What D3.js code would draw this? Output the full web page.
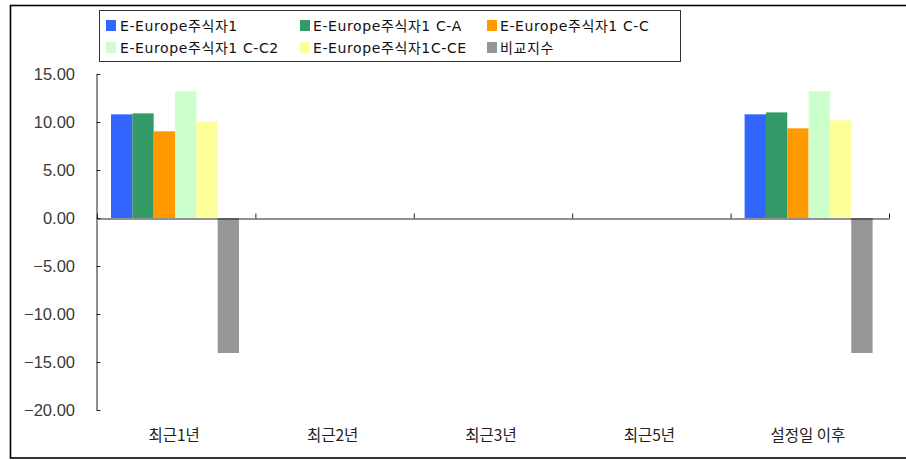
<!DOCTYPE html>
<html>
<head>
<meta charset="utf-8">
<script src="https://cdn.jsdelivr.net/npm/d3@7/dist/d3.min.js"></script>
<style>
body { margin: 0; background: #fff; }
.tick-label { font-family: "Liberation Sans", Arial, sans-serif; font-size: 16.5px; fill: #3a3a3a; }
.category { font-family: "Noto Sans CJK KR", sans-serif; font-size: 15.5px; fill: #222; }
.legend-text { font-family: "DejaVu Sans", "Noto Sans CJK KR", sans-serif; font-size: 14px; letter-spacing: 0.6px; fill: #111; }
</style>
</head>
<body>
<svg id="chart" width="906" height="460"></svg>
<script>
var WIDTH = 906;
var HEIGHT = 460;

var categories = ["최근1년", "최근2년", "최근3년", "최근5년", "설정일 이후"];
var seriesNames = ["E-Europe주식자1", "E-Europe주식자1 C-A", "E-Europe주식자1 C-C",
                   "E-Europe주식자1 C-C2", "E-Europe주식자1C-CE", "비교지수"];
var seriesColors = ["#3366ff", "#339966", "#ff9900", "#ccffcc", "#ffff99", "#969696"];

// one array per series, null = no value for that period
var fund1   = [10.80, null, null, null, 10.80];
var fundCA  = [10.90, null, null, null, 11.00];
var fundCC  = [9.03,  null, null, null, 9.34];
var fundCC2 = [13.20, null, null, null, 13.20];
var fundCCE = [10.07, null, null, null, 10.17];
var bench   = [-14.06, null, null, null, -14.06];
var seriesValues = [fund1, fundCA, fundCC, fundCC2, fundCCE, bench];

var yTicks = [15, 10, 5, 0, -5, -10, -15, -20];

var svg = d3.select("#chart");

var x0 = d3.scaleBand()
           .domain(categories)
           .range([97, 889])
           .padding(0);

var x1 = d3.scaleBand()
           .domain(d3.range(seriesNames.length))
           .range([14, x0.bandwidth() - 16.4]);

var y = d3.scaleLinear()
          .domain([-20, 15])
          .range([410, 74]);

// outer frame
svg.append("rect")
   .attr("x", 10.5)
   .attr("y", 5.5)
   .attr("width", 905)
   .attr("height", 452.5)
   .attr("fill", "none")
   .attr("stroke", "#000")
   .attr("stroke-width", 1.6);

/**
 * bars, one group per category
 */
var groups = svg.append("g")
    .selectAll("g")
    .data(categories)
    .enter().append("g")
      .attr("transform", function(d){return "translate(" + x0(d) + ",0)";});

groups.selectAll("rect")
    .data(function(d, ci){
        return seriesValues.map(function(s, si){return {s: si, v: s[ci]};})
                           .filter(function(e){return e.v !== null;});
    })
    .enter().append("rect")
      .attr("x", function(d){return x1(d.s);})
      .attr("width", x1.bandwidth())
      .attr("y", function(d){return y(Math.max(0, d.v));})
      .attr("height", function(d){return Math.abs(y(d.v) - y(0));})
      .attr("fill", function(d){return seriesColors[d.s];});

// y axis, ticks pointing inwards
var yAxis = svg.append("g")
    .attr("transform", "translate(96.5,0)")
    .call(d3.axisRight(y)
            .tickValues(yTicks)
            .tickSize(4)
            .tickSizeOuter(0)
            .tickFormat(""));
yAxis.select(".domain").attr("stroke", "#222");
yAxis.selectAll(".tick line").attr("stroke", "#222");

svg.append("g")
   .selectAll("text")
   .data(yTicks)
   .enter().append("text")
     .attr("class", "tick-label")
     .attr("x", 75)
     .attr("y", function(d){return y(d);})
     .attr("dy", "0.36em")
     .attr("text-anchor", "end")
     .text(d3.format(".2f"));

// x axis along zero line, ticks at category boundaries
var boundaries = categories.map(function(c){return x0(c);}).concat([x0.range()[1]]);
var xb = d3.scaleLinear().domain([97, 889]).range([97, 889]);
var xAxis = svg.append("g")
    .attr("transform", "translate(0," + (y(0) + 0.5) + ")")
    .call(d3.axisTop(xb)
            .tickValues(boundaries)
            .tickSize(5)
            .tickSizeOuter(0)
            .tickFormat(""));
xAxis.select(".domain").attr("stroke", "#222");
xAxis.selectAll(".tick line").attr("stroke", "#222");

svg.append("g")
   .selectAll("text")
   .data(categories)
   .enter().append("text")
     .attr("class", "category")
     .attr("x", function(d){return x0(d) + x0.bandwidth() / 2 - 2;})
     .attr("y", 441)
     .attr("text-anchor", "middle")
     .text(function(d){return d;});

/**
 * legend box, two rows of three
 */
var legendCols = [106, 300, 487];
var legendRows = [26, 48];

svg.append("rect")
   .attr("x", 99.5)
   .attr("y", 10.5)
   .attr("width", 581)
   .attr("height", 51)
   .attr("fill", "#fff")
   .attr("stroke", "#333");

var items = svg.append("g")
    .selectAll("g")
    .data(seriesNames)
    .enter().append("g")
      .attr("transform", function(d, i){
          return "translate(" + legendCols[i % 3] + "," + legendRows[Math.floor(i / 3)] + ")";
      });

items.append("rect")
     .attr("x", 0)
     .attr("y", -6)
     .attr("width", 10)
     .attr("height", 11)
     .attr("fill", function(d, i){return seriesColors[i];});

items.append("text")
     .attr("class", "legend-text")
     .attr("x", function(d, i){return i % 3 == 0 ? 14 : 13;})
     .attr("y", 0)
     .attr("dy", "0.36em")
     .text(function(d){return d;});
</script>
</body>
</html>
